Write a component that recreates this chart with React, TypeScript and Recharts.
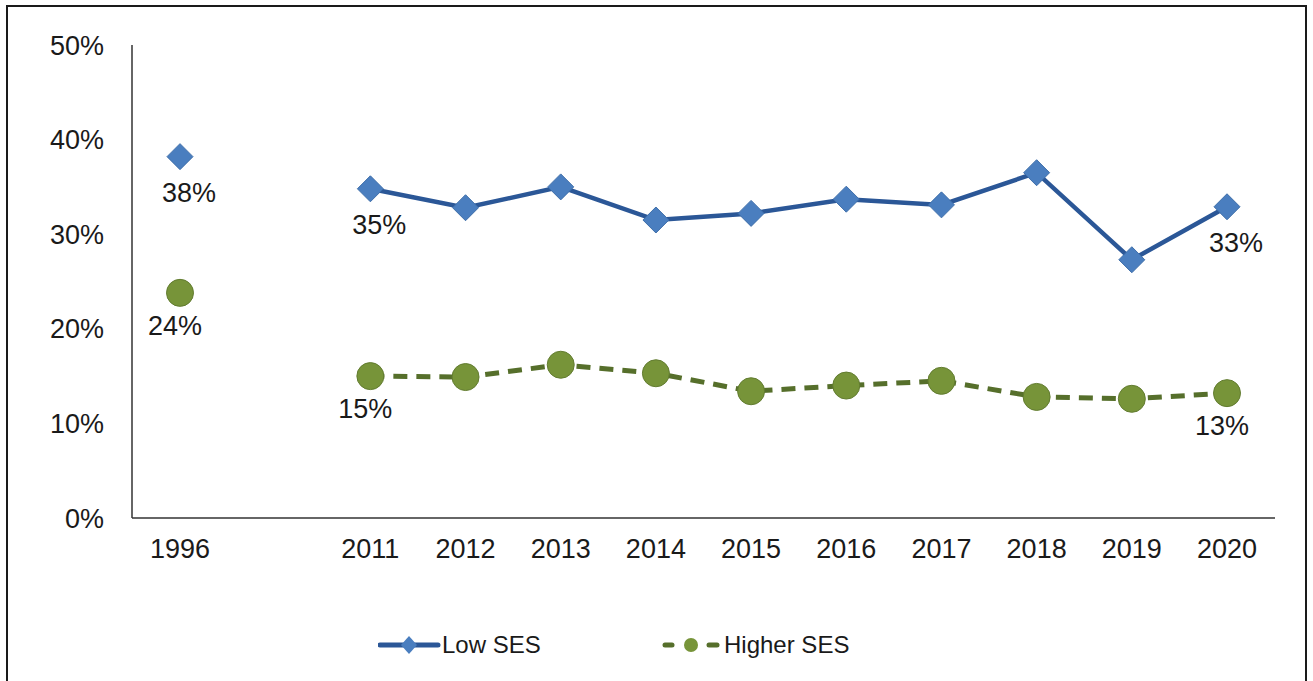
import React from 'react'
import { LineChart, Line, XAxis, YAxis, Legend, LabelList } from 'recharts'

// x categories (empty slot between 1996 and 2011 keeps the gap)
const years = ['1996', '', '2011', '2012', '2013', '2014', '2015', '2016', '2017', '2018', '2019', '2020']
const lowSes = [38.2, null, 34.8, 32.8, 35.0, 31.5, 32.2, 33.7, 33.1, 36.5, 27.3, 32.9]
const higherSes = [23.8, null, 15.0, 14.9, 16.2, 15.3, 13.4, 14.0, 14.5, 12.8, 12.6, 13.2]
const lowLabels = ['38%', null, '35%', null, null, null, null, null, null, null, null, '33%']
const higherLabels = ['24%', null, '15%', null, null, null, null, null, null, null, null, '13%']
const yTicks = [0, 10, 20, 30, 40, 50]

const data = years.map((year, i) => ({
  year,
  low: lowSes[i],
  higher: higherSes[i],
}))

const FONT = '"Liberation Sans", Arial, sans-serif'
const BLUE_LINE = '#2B5797'
const BLUE_MARK = '#4A7EBF'
const GREEN_LINE = '#566F2B'
const GREEN_MARK = '#779439'

const Diamond = (props: any) => {
  const { cx, cy } = props
  if (cx == null || cy == null || props.value == null) return null
  const r = 13
  return (
    <path
      d={`M${cx},${cy - r} L${cx + r},${cy} L${cx},${cy + r} L${cx - r},${cy} Z`}
      fill={BLUE_MARK}
      stroke="#3F6FAA"
      strokeWidth={1}
    />
  )
}

const Circle = (props: any) => {
  const { cx, cy } = props
  if (cx == null || cy == null || props.value == null) return null
  return <circle cx={cx} cy={cy} r={13.5} fill={GREEN_MARK} stroke="#627C30" strokeWidth={1} />
}

const makeLabel = (labels: (string | null)[], dx: number, dy: number) => (props: any) => {
  const { x, y, index } = props
  const text = labels[index]
  if (!text || x == null || y == null) return null
  return (
    <text x={x + dx} y={y + dy} textAnchor="middle" dominantBaseline="central" fontSize={27} fontFamily={FONT} fill="#1a1a1a">
      {text}
    </text>
  )
}

const LegendContent = () => (
  <div style={{ position: 'relative', height: 30, fontFamily: FONT, fontSize: 24, color: '#1a1a1a' }}>
    <svg style={{ position: 'absolute', left: 378, top: 0 }} width={64} height={30}>
      <line x1={2} y1={15} x2={60} y2={15} stroke={BLUE_LINE} strokeWidth={5} strokeLinecap="round" />
      <path d="M31,6 L39,15 L31,24 L23,15 Z" fill={BLUE_MARK} />
    </svg>
    <span style={{ position: 'absolute', left: 442, top: 0, lineHeight: '30px' }}>Low SES</span>
    <svg style={{ position: 'absolute', left: 660, top: 0 }} width={64} height={30}>
      <line x1={5} y1={15} x2={12} y2={15} stroke={GREEN_LINE} strokeWidth={5} strokeLinecap="round" />
      <circle cx={31} cy={15} r={7} fill={GREEN_MARK} />
      <line x1={49} y1={15} x2={57} y2={15} stroke={GREEN_LINE} strokeWidth={5} strokeLinecap="round" />
    </svg>
    <span style={{ position: 'absolute', left: 724, top: 0, lineHeight: '30px' }}>Higher SES</span>
  </div>
)

export default function App() {
  return (
    <div style={{ position: 'absolute', left: 0, top: 0, width: 1313, height: 681, overflow: 'hidden', background: '#fff' }}>
      <div style={{ position: 'absolute', left: 6, top: 5, width: 1297, height: 700, border: '2px solid #1a1a1a' }} />
      <LineChart width={1313} height={681} data={data} margin={{ top: 45, right: 38, left: 52, bottom: 21 }}>
        <XAxis
          dataKey="year"
          axisLine={{ stroke: '#333', strokeWidth: 1.5 }}
          tickLine={false}
          tickSize={0}
          tickMargin={21}
          height={112}
          interval={0}
          padding={{ left: 48, right: 48 }}
          tick={{ fontSize: 27, fontFamily: FONT, fill: '#1a1a1a' }}
        />
        <YAxis
          domain={[0, 50]}
          ticks={yTicks}
          width={80}
          axisLine={{ stroke: '#333', strokeWidth: 1.5 }}
          tickLine={false}
          tickSize={0}
          tickMargin={28}
          tickFormatter={(v: number) => `${v}%`}
          tick={{ fontSize: 27, fontFamily: FONT, fill: '#1a1a1a' }}
        />
        <Legend verticalAlign="bottom" height={30} wrapperStyle={{ left: 0, width: 1313 }} content={<LegendContent />} />
        <Line
          dataKey="low"
          name="Low SES"
          stroke={BLUE_LINE}
          strokeWidth={4.5}
          dot={<Diamond />}
          activeDot={false}
          isAnimationActive={false}
        >
          <LabelList dataKey="low" content={makeLabel(lowLabels, 9, 36)} />
        </Line>
        <Line
          dataKey="higher"
          name="Higher SES"
          stroke={GREEN_LINE}
          strokeWidth={5}
          strokeDasharray="14 9"
          dot={<Circle />}
          activeDot={false}
          isAnimationActive={false}
        >
          <LabelList dataKey="higher" content={makeLabel(higherLabels, -5, 33)} />
        </Line>
      </LineChart>
    </div>
  )
}
